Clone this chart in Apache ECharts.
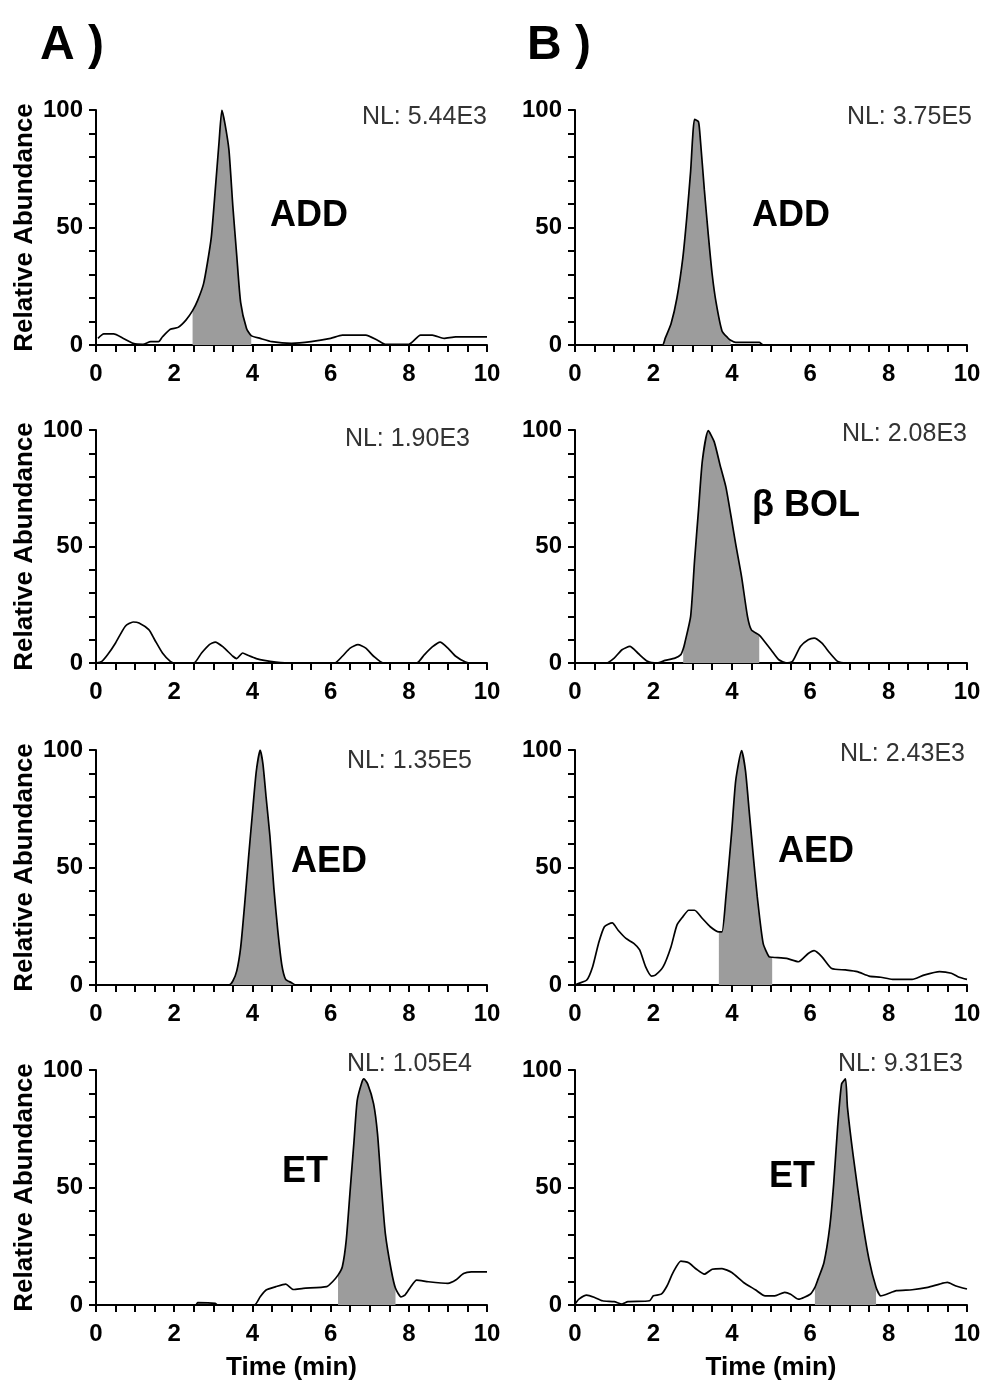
<!DOCTYPE html>
<html>
<head>
<meta charset="utf-8">
<script src="https://cdn.jsdelivr.net/npm/echarts@6/dist/echarts.min.js"></script>
<style>
html,body{margin:0;padding:0;background:#fff;}
#chart{width:986px;height:1386px;}
</style>
</head>
<body>
<div id="chart"></div>
<script>
// ---------------- DATA ----------------
// Panel A1 (ADD, sample A)
const a1Time = [0.05,0.2,0.45,0.7,0.95,1.2,1.4,1.6,1.7,1.9,2.1,2.3,2.47,2.6,2.75,2.85,2.95,3.05,3.15,3.22,3.3,3.4,3.5,3.6,3.7,3.85,3.97,4.2,4.5,5.0,5.5,6.0,6.3,6.9,7.2,7.4,8.0,8.3,8.6,8.9,9.2,10];
const a1Abund = [2.8,4.7,4.7,2.8,0.7,0.3,1.4,1.4,3.5,6.7,7.5,10.6,14.6,19,26,35,46,66,87,100,94,83,59,38,18,7,4,2.8,1.4,0.7,1.4,2.8,4.2,4.2,2,0.3,0.3,4.2,4.2,2.8,3.5,3.5];
const a1Fill = [2.47,3.97];
// Panel B1 (ADD, sample B)
const b1Time = [0,1,2.23,2.3,2.45,2.6,2.75,2.85,2.95,3.0,3.05,3.15,3.2,3.3,3.4,3.5,3.6,3.75,3.9,3.97,4.1,4.7,4.8,6,8,10];
const b1Abund = [0,0,0,2.8,9,20,37,54,74,88,96,95,87,66,47,30,18,6,3,2,1.1,1.1,0,0,0,0];
const b1Fill = [2.23,3.97];
// Panel A2 (no compound, sample A)
const a2Time = [0,0.15,0.3,0.5,0.75,0.95,1.1,1.35,1.5,1.7,1.9,2.0,2.5,2.7,2.9,3.05,3.25,3.5,3.6,3.75,3.9,4.1,4.3,4.6,5.0,6.1,6.3,6.5,6.7,6.9,7.1,7.35,8.2,8.4,8.6,8.8,9.0,9.2,9.45,9.6,10];
const a2Abund = [0,0.7,3.6,8.6,15.8,17.6,17.2,14.3,10,4.3,0.7,0,0,4.3,7.9,9,6.9,2.9,1.9,4.3,3.2,1.9,1.1,0.4,0,0,2.9,6.4,7.9,6.4,2.9,0,0,3.6,6.9,9,6.4,2.9,0.4,0,0];
const a2Fill = null;
// Panel B2 (beta BOL, sample B)
const b2Time = [0,0.8,1.0,1.2,1.4,1.6,1.85,2.1,2.3,2.55,2.7,2.76,2.8,2.95,3.05,3.15,3.25,3.4,3.55,3.7,3.85,4.0,4.1,4.25,4.4,4.5,4.7,4.8,5.0,5.2,5.4,5.55,5.75,5.95,6.1,6.3,6.5,6.7,6.9,8,10];
const b2Abund = [0,0,2.1,5.7,7.1,4.3,0.7,0,1.1,2.1,3.6,6,8.5,20,44,65.5,87,99.7,95,85,75.5,61,51,37,20,14.2,12,10,5.7,1.4,0,0.7,7.1,10,10.7,8.5,4.3,0.7,0,0,0];
const b2Fill = [2.76,4.7];
// Panel A3 (AED, sample A)
const a3Time = [0,2,3.4,3.5,3.6,3.7,3.8,3.9,4.0,4.1,4.2,4.27,4.35,4.45,4.55,4.65,4.75,4.85,5.0,5.1,7,10];
const a3Abund = [0,0,0,1.7,6,16,34,54,73,91,100,94,80,63,41,23,8.8,2.4,1,0,0,0];
const a3Fill = [3.4,5.1];
// Panel B3 (AED, sample B)
const b3Time = [0,0.1,0.3,0.45,0.6,0.75,0.95,1.1,1.3,1.5,1.65,1.8,1.95,2.05,2.25,2.45,2.6,2.75,2.9,3.05,3.25,3.45,3.67,3.75,3.85,4.0,4.1,4.25,4.35,4.45,4.55,4.65,4.8,4.95,5.03,5.1,5.4,5.7,5.95,6.1,6.3,6.55,6.9,7.2,7.5,7.8,8.1,8.6,8.9,9.3,9.6,9.8,10];
const b3Abund = [0,0.7,2.1,7.8,17.7,24.8,26.4,23.3,19.8,17.7,14.9,7.8,3.8,4.2,7.8,16.3,25.5,29,31.8,31.8,28.3,24.8,22.6,22.6,37.5,65.8,87,99.7,91,72.8,54.5,37.5,17.7,12,11.8,11.7,11.3,9.9,13.4,14.6,12,7,6.4,5.7,3.8,3.3,2.4,2.4,4.2,5.7,5,3.3,2.4];
const b3Fill = [3.67,5.03];
// Panel A4 (ET, sample A)
const a4Time = [0,2.55,2.6,3.05,3.1,4.05,4.2,4.35,4.6,4.85,5.05,5.3,5.9,6.05,6.19,6.3,6.4,6.5,6.6,6.68,6.8,6.85,6.95,7.1,7.2,7.3,7.4,7.55,7.66,7.8,7.9,8.05,8.2,8.5,9.0,9.2,9.4,9.6,10];
const a4Abund = [0,0,1,0.7,0,0,3.5,6.4,7.8,8.9,6.6,7.1,7.8,9.9,12.7,16.3,27.6,48.8,70,87,94.8,96.2,94,85.6,72.8,50.2,30.4,14.9,7.1,3.5,4.2,7.8,10.6,9.9,9.2,10.6,13.4,14.1,14.1];
const a4Fill = [6.19,7.66];
// Panel B4 (ET, sample B)
const b4Time = [0,0.1,0.3,0.5,0.7,1.0,1.2,1.35,1.9,2.0,2.2,2.35,2.5,2.7,2.9,3.1,3.3,3.5,3.75,4.0,4.3,4.6,4.85,5.1,5.35,5.5,5.7,6.0,6.12,6.2,6.35,6.5,6.6,6.7,6.8,6.9,6.95,7.1,7.3,7.5,7.68,7.8,7.95,8.2,8.6,9.0,9.3,9.5,9.7,10];
const b4Abund = [0.4,2.5,4.2,3.2,1.8,1.4,0.4,1.4,1.8,3.9,4.6,8.2,13.8,18.7,18,15.2,13.1,15.2,15.5,13.8,9.6,6.5,3.9,3.9,5.4,4.6,2.5,4.6,7.5,11,18,33.5,51.8,75.8,94,96.2,84.2,63.1,39.2,19.4,7.6,3.9,4.6,6.1,6.5,7.5,8.9,9.6,8.2,6.8];
const b4Fill = [6.12,7.68];

const nlLabels = ['NL: 5.44E3','NL: 3.75E5','NL: 1.90E3','NL: 2.08E3','NL: 1.35E5','NL: 2.43E3','NL: 1.05E4','NL: 9.31E3'];
const compoundLabels = ['ADD','ADD','','\u03B2 BOL','AED','AED','ET','ET'];
const panelTitles = ['A )','B )'];
const xTicks = [0,2,4,6,8,10];
const yTicks = [0,50,100];
const yAxisTitle = 'Relative Abundance';
const xAxisTitle = 'Time (min)';

// ---------------- LAYOUT ----------------
const times = [a1Time,b1Time,a2Time,b2Time,a3Time,b3Time,a4Time,b4Time];
const abunds = [a1Abund,b1Abund,a2Abund,b2Abund,a3Abund,b3Abund,a4Abund,b4Abund];
const fills = [a1Fill,b1Fill,a2Fill,b2Fill,a3Fill,b3Fill,a4Fill,b4Fill];

const colLeft = [96, 575];
const colWidth = [391, 392];
const rowTop = [110, 430, 750, 1070];
const rowHeight = [235, 233, 235, 235];

const FONT = '"Liberation Sans", Arial, Helvetica, sans-serif';

const grids = [], xAxes = [], yAxes = [], series = [], graphics = [];

// positions of the NL and compound texts (pixels)
const nlPos = [[487,118],[972,118],[470,440],[967,435],[472,762],[965,755],[472,1065],[963,1065]];
const cmpPos = [[270,217],[752,217],[0,0],[752,507],[291,863],[778,853],[282,1173],[769,1178]];

for (let i = 0; i < 8; i++) {
  const col = i % 2, row = Math.floor(i / 2);
  grids.push({left: colLeft[col], width: colWidth[col], top: rowTop[row], height: rowHeight[row]});
  xAxes.push({
    type: 'value', gridIndex: i, min: xTicks[0], max: xTicks[xTicks.length-1], interval: 2,
    axisLine: {lineStyle: {color: '#000', width: 2}},
    axisTick: {show: true, length: 7, lineStyle: {color: '#000', width: 2}},
    minorTick: {show: true, splitNumber: 4, length: 7, lineStyle: {color: '#000', width: 2}},
    splitLine: {show: false},
    axisLabel: {color: '#000', fontFamily: FONT, fontWeight: 'bold', fontSize: 24, margin: 17,
      formatter: v => xTicks.indexOf(v) >= 0 ? String(v) : ''},
    name: row === 3 ? xAxisTitle : '',
    nameLocation: 'middle', nameGap: 50,
    nameTextStyle: {color: '#000', fontFamily: FONT, fontWeight: 'bold', fontSize: 26}
  });
  yAxes.push({
    type: 'value', gridIndex: i, min: yTicks[0], max: yTicks[yTicks.length-1], interval: 50,
    axisLine: {show: true, lineStyle: {color: '#000', width: 2}},
    axisTick: {show: true, length: 7, lineStyle: {color: '#000', width: 2}},
    minorTick: {show: true, splitNumber: 5, length: 7, lineStyle: {color: '#000', width: 2}},
    splitLine: {show: false},
    axisLabel: {color: '#000', fontFamily: FONT, fontWeight: 'bold', fontSize: 24, margin: 13},
    name: col === 0 ? yAxisTitle : '',
    nameLocation: 'middle', nameGap: 58,
    nameTextStyle: {color: '#000', fontFamily: FONT, fontWeight: 'bold', fontSize: 26}
  });
  const pts = times[i].map((t, k) => [t, abunds[i][k]]);
  if (fills[i]) {
    const f = fills[i];
    series.push({
      type: 'line', xAxisIndex: i, yAxisIndex: i, symbol: 'none', smooth: 0.2,
      data: pts.filter(p => p[0] >= f[0] - 1e-9 && p[0] <= f[1] + 1e-9),
      lineStyle: {width: 0, color: '#999'},
      areaStyle: {color: '#9c9c9c', opacity: 1, origin: 'start'},
      z: 1, silent: true
    });
  }
  series.push({
    type: 'line', xAxisIndex: i, yAxisIndex: i, symbol: 'none', smooth: 0.2,
    data: pts, lineStyle: {width: 1.7, color: '#000'}, z: 3, silent: true
  });
  graphics.push({
    type: 'text', right: 986 - nlPos[i][0], top: nlPos[i][1] - 13,
    style: {text: nlLabels[i], fill: '#333', font: 'normal 25px ' + FONT}
  });
  if (compoundLabels[i]) {
    graphics.push({
      type: 'text', left: cmpPos[i][0], top: cmpPos[i][1] - 19,
      style: {text: compoundLabels[i], fill: '#000', font: 'bold 36px ' + FONT}
    });
  }
}
graphics.push({type: 'text', left: 40, top: 22, style: {text: panelTitles[0], fill: '#000', font: 'bold 48px ' + FONT}});
graphics.push({type: 'text', left: 527, top: 22, style: {text: panelTitles[1], fill: '#000', font: 'bold 48px ' + FONT}});

const chart = echarts.init(document.getElementById('chart'), null, {renderer: 'canvas'});
chart.setOption({
  animation: false,
  backgroundColor: '#fff',
  grid: grids, xAxis: xAxes, yAxis: yAxes, series: series, graphic: graphics
});
</script>
</body>
</html>
